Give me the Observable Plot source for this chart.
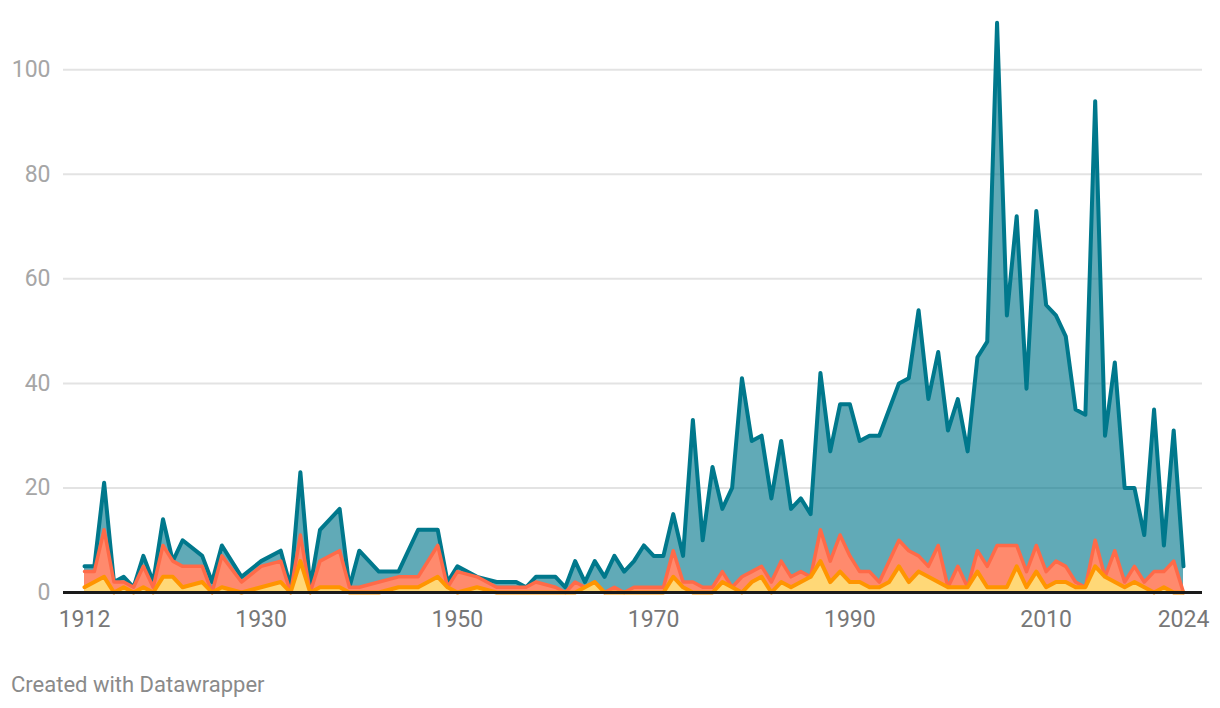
<!DOCTYPE html>
<html>
<head>
<meta charset="utf-8">
<script src="https://cdn.jsdelivr.net/npm/d3@7"></script>
<script src="https://cdn.jsdelivr.net/npm/@observablehq/plot@0.6"></script>
<style>
  html, body { margin: 0; padding: 0; background: #ffffff; }
  #wrap { position: relative; width: 1220px; height: 708px; font-family: Roboto, "Noto Sans", sans-serif; }
  #chart { position: absolute; left: 0; top: 0; }
  #caption { position: absolute; left: 11px; top: 674px; font-size: 22px; line-height: 22px; color: #8a8a8a; white-space: nowrap; }
</style>
</head>
<body>
<div id="wrap">
  <div id="chart"></div>
  <div id="caption">Created with Datawrapper</div>
</div>
<script>
// ---- data ----
const years = [
  1912, 1913, 1914, 1915, 1916, 1917, 1918, 1919, 1920, 1921, 1922, 1924, 1925, 1926, 1928,
  1930, 1932, 1933, 1934, 1935, 1936, 1938, 1939, 1940, 1942, 1944, 1946, 1948, 1949,
  1950, 1952, 1954, 1956, 1957, 1958, 1960, 1961, 1962, 1963, 1964, 1965, 1966, 1967, 1968, 1969,
  1970, 1971, 1972, 1973, 1974, 1975, 1976, 1977, 1978, 1979,
  1980, 1981, 1982, 1983, 1984, 1985, 1986, 1987, 1988, 1989,
  1990, 1991, 1992, 1993, 1994, 1995, 1996, 1997, 1998, 1999,
  2000, 2001, 2002, 2003, 2004, 2005, 2006, 2007, 2008, 2009,
  2010, 2011, 2012, 2013, 2014, 2015, 2016, 2017, 2018, 2019,
  2020, 2021, 2022, 2023, 2024
];
const totalSeries = [
  5, 5, 21, 2, 3, 1, 7, 2, 14, 6, 10, 7, 2, 9, 3,
  6, 8, 1, 23, 1, 12, 16, 1, 8, 4, 4, 12, 12, 2,
  5, 3, 2, 2, 1, 3, 3, 1, 6, 2, 6, 3, 7, 4, 6, 9,
  7, 7, 15, 7, 33, 10, 24, 16, 20, 41,
  29, 30, 18, 29, 16, 18, 15, 42, 27, 36,
  36, 29, 30, 30, 35, 40, 41, 54, 37, 46,
  31, 37, 27, 45, 48, 109, 53, 72, 39, 73,
  55, 53, 49, 35, 34, 94, 30, 44, 20, 20,
  11, 35, 9, 31, 5
];
const middleSeries = [
  4, 4, 12, 2, 2, 1, 5, 1, 9, 6, 5, 5, 0, 7, 2,
  5, 6, 0, 11, 0, 6, 8, 1, 1, 2, 3, 3, 9, 1,
  4, 3, 1, 1, 1, 2, 1, 0, 2, 1, 2, 0, 1, 0, 1, 1,
  1, 1, 8, 2, 2, 1, 1, 4, 1, 3,
  4, 5, 2, 6, 3, 4, 3, 12, 6, 11,
  7, 4, 4, 2, 6, 10, 8, 7, 5, 9,
  1, 5, 1, 8, 5, 9, 9, 9, 4, 9,
  4, 6, 5, 2, 1, 10, 3, 8, 2, 5,
  2, 4, 4, 6, 0
];
const lowSeries = [
  1, 2, 3, 0, 1, 0, 1, 0, 3, 3, 1, 2, 0, 1, 0,
  1, 2, 0, 6, 0, 1, 1, 0, 0, 0, 1, 1, 3, 1,
  0, 1, 0, 0, 0, 0, 0, 0, 0, 1, 2, 0, 0, 0, 0, 0,
  0, 0, 3, 1, 0, 0, 0, 2, 1, 0,
  2, 3, 0, 2, 1, 2, 3, 6, 2, 4,
  2, 2, 1, 1, 2, 5, 2, 4, 3, 2,
  1, 1, 1, 4, 1, 1, 1, 5, 1, 4,
  1, 2, 2, 1, 1, 5, 3, 2, 1, 2,
  1, 0, 1, 0, 0
];
const xTicks = [1912, 1930, 1950, 1970, 1990, 2010, 2024];
const yTicks = [0, 20, 40, 60, 80, 100];

// table built from the arrays
const rows = years.map((year, i) => ({
  year,
  total: totalSeries[i],
  middle: middleSeries[i],
  low: lowSeries[i]
}));

// ---- layout ----
const W = 1220, H = 650;
const frameLeft = 63, frameRight = 1202;   // grid extent
const dataLeft = 84, dataRight = 1183;     // where first / last year sit
const pxPerYear = (dataRight - dataLeft) / (years[years.length - 1] - years[0]);
const xDomain = [
  years[0] - (dataLeft - frameLeft) / pxPerYear,
  years[years.length - 1] + (frameRight - dataRight) / pxPerYear
];

const teal = "#00788c", tealFill = "#00768b";
const red = "#ff6a48", redFill = "#ff8a6d";
const orange = "#ff9500", yellowFill = "#ffd877";

const chart = Plot.plot({
  width: W,
  height: H,
  marginLeft: frameLeft,
  marginRight: W - frameRight,
  marginTop: 17,
  marginBottom: 58,
  style: { fontFamily: "Roboto, 'Noto Sans', sans-serif", background: "transparent", overflow: "visible" },
  x: { domain: xDomain, label: null },
  y: { domain: [0, 110], label: null },
  marks: [
    Plot.ruleY(yTicks.filter(d => d > 0), { stroke: "#e3e3e3", strokeWidth: 2 }),
    Plot.axisY({ ticks: yTicks, tickSize: 0, tickPadding: 13, fontSize: 23, fill: "#a6a6a6", label: null }),
    Plot.axisX({ ticks: xTicks, tickFormat: d => String(d), tickSize: 0, tickPadding: 18, fontSize: 23, fill: "#777777", label: null }),
    Plot.areaY(rows, { x: "year", y: "total", fill: tealFill, fillOpacity: 0.62 }),
    Plot.lineY(rows, { x: "year", y: "total", stroke: teal, strokeWidth: 4, strokeLinejoin: "round" }),
    Plot.areaY(rows, { x: "year", y: "middle", fill: redFill }),
    Plot.lineY(rows, { x: "year", y: "middle", stroke: red, strokeWidth: 3.5, strokeLinejoin: "round" }),
    Plot.areaY(rows, { x: "year", y: "low", fill: yellowFill }),
    Plot.lineY(rows, { x: "year", y: "low", stroke: orange, strokeWidth: 4, strokeLinejoin: "round" }),
    Plot.ruleY([0], { stroke: "#1a1a1a", strokeWidth: 3 })
  ]
});
document.getElementById("chart").appendChild(chart);
</script>
</body>
</html>
